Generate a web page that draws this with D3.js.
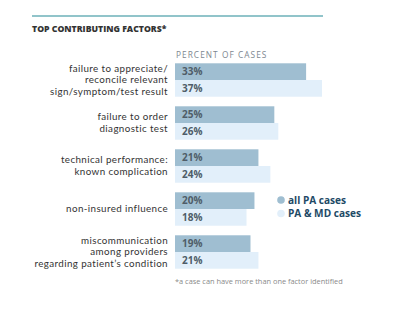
<!DOCTYPE html>
<html>
<head>
<meta charset="utf-8">
<script src="https://cdn.jsdelivr.net/npm/d3@7/dist/d3.min.js"></script>
<style>
  body { margin: 0; background: #fff; }
  svg { display: block; font-family: "Open Sans", Lato, sans-serif; }
</style>
</head>
<body>
<div id="chart"></div>
<script>
// chart data
const factors = [
  ['failure to appreciate/', 'reconcile relevant', 'sign/symptom/test result'],
  ['failure to order', 'diagnostic test'],
  ['technical performance:', 'known complication'],
  ['non-insured influence'],
  ['miscommunication', 'among providers', "regarding patient\u2019s condition"]
];
const seriesNames = ['all PA cases', 'PA & MD cases'];
const paCases = [33, 25, 21, 20, 19];
const paMdCases = [37, 26, 24, 18, 21];

const colors = ['#9fbed1', '#e2effa'];

const width = 400, height = 336;

const svg = d3.select('#chart').append('svg')
  .attr('width', width)
  .attr('height', height);

// top rule + title
svg.append('line')
  .attr('x1', 32).attr('x2', 323)
  .attr('y1', 16).attr('y2', 16)
  .attr('stroke', '#6cb1b9')
  .attr('stroke-width', 1.5);

svg.append('text')
  .attr('x', 32).attr('y', 32)
  .attr('font-size', 8.7)
  .attr('font-weight', 800)
  .attr('fill', '#333')
  .text('TOP CONTRIBUTING FACTORS*');

svg.append('text')
  .attr('x', 176).attr('y', 58)
  .attr('font-size', 8.3)
  .attr('letter-spacing', 1.05)
  .attr('fill', '#7d8790')
  .text('PERCENT OF CASES');

// scales
const idx = d3.range(factors.length);
const y = d3.scaleBand().domain(idx).range([63.3, 268.7]).paddingInner(0.223).paddingOuter(0);
const ySub = d3.scaleBand().domain([0, 1]).range([0, y.bandwidth()]);
const x = d3.scaleLinear().domain([0, 37]).range([175, 322]);

const data = idx.map(i => ({ i, label: factors[i], values: [paCases[i], paMdCases[i]] }));

const groups = svg.selectAll('g.group')
  .data(data)
  .enter()
  .append('g')
  .attr('class', 'group')
  .attr('transform', d => 'translate(0,' + y(d.i) + ')');

groups.selectAll('rect')
  .data(d => d.values.map((v, s) => ({ v, s })))
  .enter()
  .append('rect')
  .attr('x', x(0))
  .attr('y', d => ySub(d.s))
  .attr('width', d => x(d.v) - x(0))
  .attr('height', ySub.bandwidth())
  .attr('fill', d => colors[d.s]);

groups.selectAll('text.val')
  .data(d => d.values.map((v, s) => ({ v, s })))
  .enter()
  .append('text')
  .attr('class', 'val')
  .attr('x', x(0) + 7)
  .attr('y', d => ySub(d.s) + ySub.bandwidth() / 2)
  .attr('dy', '0.36em')
  .attr('font-size', 10)
  .attr('font-weight', 700)
  .attr('fill', '#4f5d68')
  .text(d => d.v + '%');

// category labels, right aligned, centred on the group
// Lato has a shorter line box, so the tight line spacing doesn't overlap
const lineH = 11.9;
groups.append('text')
  .attr('class', 'cat')
  .attr('text-anchor', 'end')
  .attr('font-family', 'Lato, sans-serif')
  .attr('font-size', 9.8)
  .attr('letter-spacing', 0.4)
  .attr('fill', '#333')
  .each(function (d) {
    const n = d.label.length;
    const t = d3.select(this);
    d.label.forEach((line, k) => {
      t.append('tspan')
        .attr('x', 168)
        .attr('y', y.bandwidth() / 2 + (k - (n - 1) / 2) * lineH)
        .attr('dy', '0.35em')
        .text(line);
    });
  });

// legend
const legend = svg.append('g').attr('transform', 'translate(281,200)');
seriesNames.forEach((name, s) => {
  legend.append('circle')
    .attr('cx', 0).attr('cy', s * 13.5)
    .attr('r', 3.8)
    .attr('fill', colors[s]);
  legend.append('text')
    .attr('x', 7).attr('y', s * 13.5)
    .attr('dy', '0.35em')
    .attr('font-size', 10.1)
    .attr('font-weight', 700)
    .attr('fill', '#1e4a66')
    .text(name);
});

// footnote
svg.append('text')
  .attr('x', 175).attr('y', 284)
  .attr('font-size', 7.4)
  .attr('fill', '#8a8a8a')
  .text('*a case can have more than one factor identified');
</script>
</body>
</html>
